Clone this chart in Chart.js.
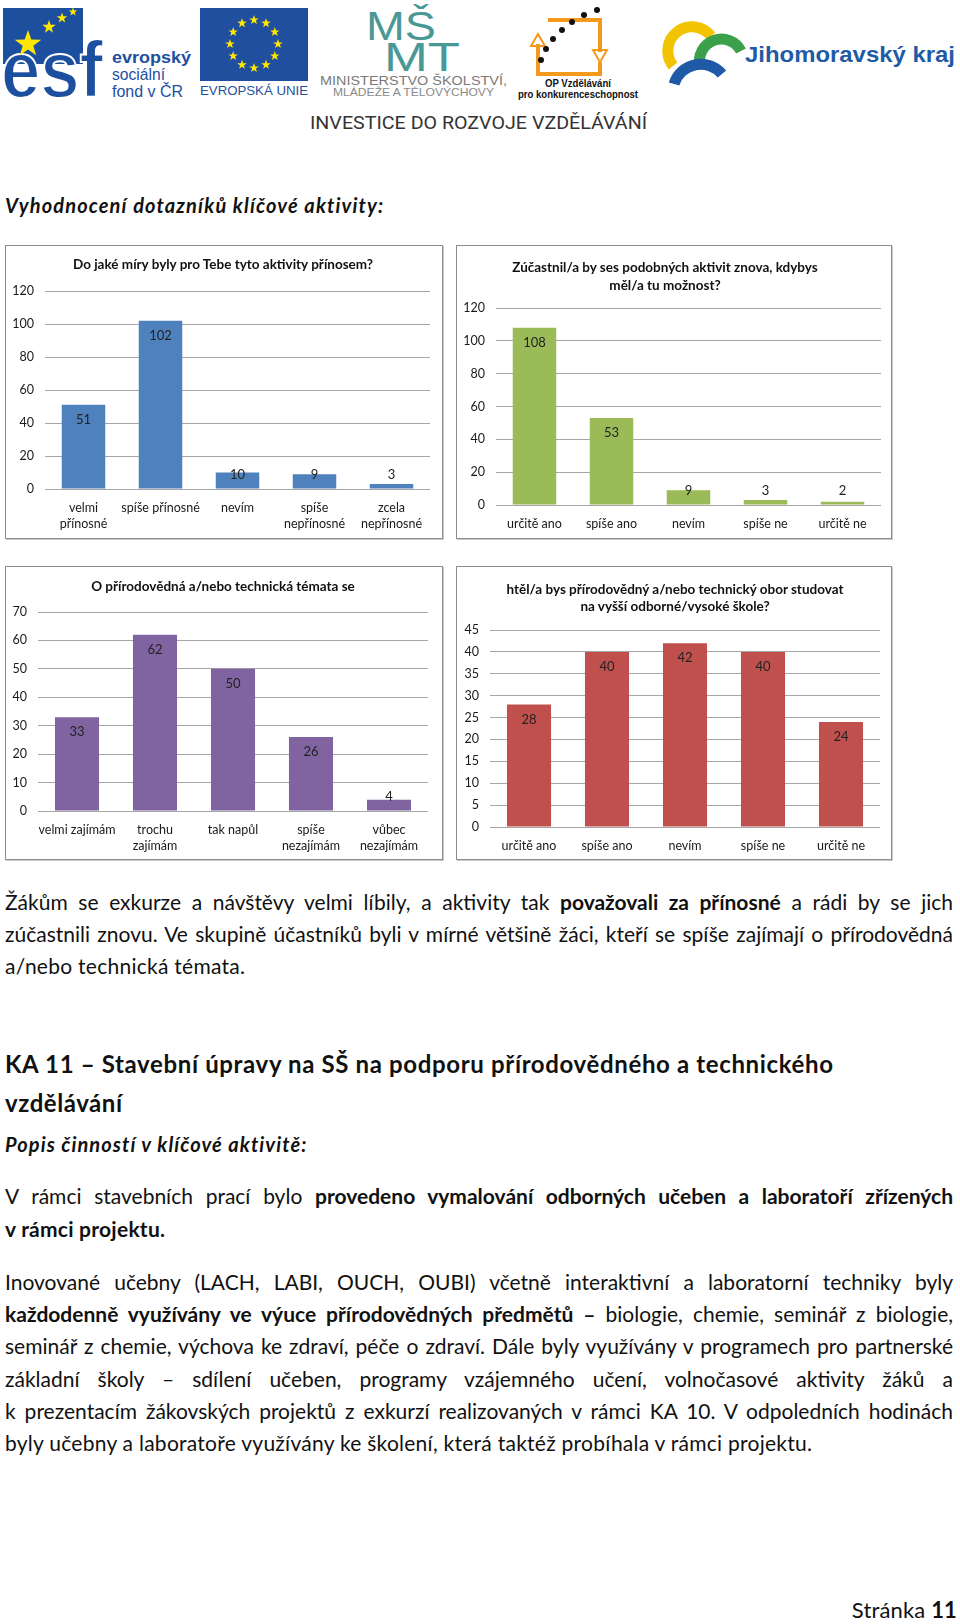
<!DOCTYPE html>
<html lang="cs">
<head>
<meta charset="utf-8">
<title>Vyhodnocení dotazníků klíčové aktivity</title>
<script src="https://cdn.jsdelivr.net/npm/chart.js@4.4.1/dist/chart.umd.min.js"></script>
<style>
html, body { margin: 0; padding: 0; background: #fff; }
body { width: 960px; height: 1624px; position: relative; overflow: hidden; font-family: Lato, 'Open Sans', sans-serif; color: #111; }
.ln { position: absolute; left: 5px; white-space: nowrap; line-height: 30px; height: 30px; font-size: 21px; }
.ln span { display: inline-block; }
.h1 { font-size: 24px; font-weight: bold; line-height: 34px; height: 34px; }
.bi { font-weight: bold; font-style: italic; font-size: 20px; }
.box { position: absolute; box-sizing: border-box; border: 1px solid #8d8d8d; box-shadow: 1px 1px 0 #c9c9c9; background: #fff; }
.ct { position: absolute; font-weight: bold; font-size: 13.5px; line-height: 17px; text-align: center; white-space: nowrap; transform: translateX(-50%); color: #111; }
canvas { position: absolute; }
</style>
</head>
<body>

<svg id="header" width="960" height="140" style="position:absolute;left:0;top:0" font-family="'Liberation Sans', Arial, sans-serif">
  <!-- esf -->
  <rect x="3" y="8" width="80" height="56" fill="#1d4f9f"/>
  <text x="1" y="97" font-size="80" font-weight="bold" fill="#1d4f9f" stroke="#fff" stroke-width="2" textLength="102" lengthAdjust="spacingAndGlyphs">esf</text>
  <g id="esfStars" fill="#ffe600"></g>
  <text x="112" y="63" font-size="17" font-weight="bold" fill="#1d4f9f" textLength="79" lengthAdjust="spacingAndGlyphs">evropský</text>
  <text x="112" y="80" font-size="16" fill="#1d4f9f" textLength="53" lengthAdjust="spacingAndGlyphs">sociální</text>
  <text x="112" y="97" font-size="16" fill="#1d4f9f" textLength="71" lengthAdjust="spacingAndGlyphs">fond v ČR</text>
  <!-- EU -->
  <rect x="200" y="8" width="108" height="73" fill="#1f4f9e"/>
  <g id="euStars" fill="#ffe600"></g>
  <text x="200" y="95" font-size="13" fill="#1f4f9e" textLength="108" lengthAdjust="spacingAndGlyphs">EVROPSKÁ UNIE</text>
  <!-- MSMT -->
  <text x="366" y="40" font-size="40" fill="#4a9896" font-family="'Liberation Sans Narrow', 'Liberation Sans', sans-serif" font-weight="300" textLength="70" lengthAdjust="spacingAndGlyphs">MŠ</text>
  <text x="384" y="71" font-size="40" fill="#4a9896" font-family="'Liberation Sans Narrow', 'Liberation Sans', sans-serif" font-weight="300" textLength="76" lengthAdjust="spacingAndGlyphs">MT</text>
  <text x="320" y="85" font-size="13" fill="#7a7a7a" textLength="187" lengthAdjust="spacingAndGlyphs">MINISTERSTVO ŠKOLSTVÍ,</text>
  <text x="333" y="96" font-size="11" fill="#8a8a8a" textLength="161" lengthAdjust="spacingAndGlyphs">MLÁDEŽE A TĚLOVÝCHOVY</text>
  <!-- OP -->
  <g fill="none" stroke="#f39a1e" stroke-width="4">
    <path d="M548 20 H600 V52"/>
    <path d="M538 44 V74 H600 V62"/>
  </g>
  <path d="M593 50 L607 50 L600 62 Z" fill="none" stroke="#f39a1e" stroke-width="2"/>
  <path d="M531 46 L545 46 L538 34 Z" fill="none" stroke="#f39a1e" stroke-width="2"/>
  <g id="opDots" fill="#111"></g>
  <text x="578" y="87" font-size="10" font-weight="bold" fill="#111" text-anchor="middle" textLength="66" lengthAdjust="spacingAndGlyphs">OP Vzdělávání</text>
  <text x="578" y="98" font-size="10" font-weight="bold" fill="#111" text-anchor="middle" textLength="120" lengthAdjust="spacingAndGlyphs">pro konkurenceschopnost</text>
  <!-- Jihomoravsky kraj -->
  <path d="M673 66 A24 24 0 1 1 711 36" fill="none" stroke="#f2c300" stroke-width="11"/>
  <path d="M700 66 A22 22 0 0 1 741 51" fill="none" stroke="#3aa04a" stroke-width="11"/>
  <path d="M674 84 A28 28 0 0 1 722 74" fill="none" stroke="#1f5aa6" stroke-width="11"/>
  <text x="745" y="62" font-size="22" font-weight="bold" fill="#1f5aa6" textLength="210" lengthAdjust="spacingAndGlyphs">Jihomoravský kraj</text>
  <text x="310" y="129" font-size="19" fill="#333" font-family="'Liberation Sans Narrow', 'Roboto', sans-serif" textLength="337" lengthAdjust="spacingAndGlyphs">INVESTICE DO ROZVOJE VZDĚLÁVÁNÍ</text>
</svg>

<div class="ln bi" style="top:190px" data-w="378"><span>Vyhodnocení dotazníků klíčové aktivity:</span></div>

<div class="box" style="left:5px;top:245px;width:438px;height:294px"></div>
<div class="box" style="left:456px;top:245px;width:436px;height:294px"></div>
<div class="box" style="left:5px;top:566px;width:438px;height:294px"></div>
<div class="box" style="left:456px;top:566px;width:436px;height:294px"></div>

<canvas id="prinos"></canvas>
<canvas id="znova"></canvas>
<canvas id="zajem"></canvas>
<canvas id="studium"></canvas>

<div class="ct" style="left:223px;top:256px">Do jaké míry byly pro Tebe tyto aktivity přínosem?</div>
<div class="ct" style="left:665px;top:258px;line-height:18px">Zúčastnil/a by ses podobných aktivit znova, kdybys<br>měl/a tu možnost?</div>
<div class="ct" style="left:223px;top:578px">O přírodovědná a/nebo technická témata se</div>
<div class="ct" style="left:675px;top:581px;line-height:17px">htěl/a bys přírodovědný a/nebo technický obor studovat<br>na vyšší odborné/vysoké škole?</div>

<div class="ln j" style="top:887px" data-w="948"><span>Žákům se exkurze a návštěvy velmi líbily, a aktivity tak <b>považovali za přínosné</b> a rádi by se jich</span></div>
<div class="ln j" style="top:919px" data-w="948"><span>zúčastnili znovu. Ve skupině účastníků byli v mírné většině žáci, kteří se spíše zajímají o přírodovědná</span></div>
<div class="ln" style="top:951px" data-w="240"><span>a/nebo technická témata.</span></div>

<div class="ln h1" style="top:1047px" data-w="828"><span>KA 11 – Stavební úpravy na SŠ na podporu přírodovědného a technického</span></div>
<div class="ln h1" style="top:1086px" data-w="117"><span>vzdělávání</span></div>
<div class="ln bi" style="top:1129px" data-w="301"><span>Popis činností v klíčové aktivitě:</span></div>

<div class="ln j" style="top:1181px" data-w="948"><span>V rámci stavebních prací bylo <b>provedeno vymalování odborných učeben a laboratoří zřízených</b></span></div>
<div class="ln" style="top:1214px" data-w="160"><span><b>v rámci projektu.</b></span></div>

<div class="ln j" style="top:1267px" data-w="948"><span>Inovované učebny (LACH, LABI, OUCH, OUBI) včetně interaktivní a laboratorní techniky byly</span></div>
<div class="ln j" style="top:1299px" data-w="948"><span><b>každodenně využívány ve výuce přírodovědných předmětů –</b> biologie, chemie, seminář z biologie,</span></div>
<div class="ln j" style="top:1331px" data-w="948"><span>seminář z chemie, výchova ke zdraví, péče o zdraví. Dále byly využívány v programech pro partnerské</span></div>
<div class="ln j" style="top:1364px" data-w="948"><span>základní školy – sdílení učeben, programy vzájemného učení, volnočasové aktivity žáků a</span></div>
<div class="ln j" style="top:1396px" data-w="948"><span>k prezentacím žákovských projektů z exkurzí realizovaných v rámci KA 10. V odpoledních hodinách</span></div>
<div class="ln" style="top:1428px" data-w="807"><span>byly učebny a laboratoře využívány ke školení, která taktéž probíhala v rámci projektu.</span></div>

<div class="ln" style="top:1595px;left:auto;right:3px;font-size:22px" data-w="105"><span>Stránka <b>11</b></span></div>

<script>
// chart data
const prinosLabels = [['velmi', 'přínosné'], 'spíše přínosné', 'nevím', ['spíše', 'nepřínosné'], ['zcela', 'nepřínosné']];
const prinosValues = [51, 102, 10, 9, 3];

const znovaLabels = ['určitě ano', 'spíše ano', 'nevím', 'spíše ne', 'určitě ne'];
const znovaValues = [108, 53, 9, 3, 2];

const zajemLabels = ['velmi zajímám', ['trochu', 'zajímám'], 'tak napůl', ['spíše', 'nezajímám'], ['vůbec', 'nezajímám']];
const zajemValues = [33, 62, 50, 26, 4];

const studiumLabels = ['určitě ano', 'spíše ano', 'nevím', 'spíše ne', 'určitě ne'];
const studiumValues = [28, 40, 42, 40, 24];

// axis ranges
const prinosAxis = { max: 120, step: 20 };
const znovaAxis = { max: 120, step: 20 };
const zajemAxis = { max: 70, step: 10 };
const studiumAxis = { max: 45, step: 5 };

Chart.defaults.font.family = "Lato, 'Open Sans', sans-serif";
Chart.defaults.color = '#1a1a1a';

// value labels drawn inside the top of each bar, like Excel "inside end"
const valueLabels = {
    id: 'valueLabels',
    afterDatasetsDraw(chart) {
        const ctx = chart.ctx;
        const meta = chart.getDatasetMeta(0);
        const values = chart.data.datasets[0].data;
        ctx.save();
        ctx.font = "13px Lato, 'Open Sans', sans-serif";
        ctx.fillStyle = '#222';
        ctx.textAlign = 'center';
        ctx.textBaseline = 'middle';
        meta.data.forEach((bar, i) => {
            const y = Math.min(bar.y + 15, bar.base - 14);
            ctx.fillText(String(values[i]), bar.x, y);
        });
        ctx.restore();
    }
};

// box = [left, top, right, bottom], plot = [left, top, right, bottom] in page pixels
function makeChart(id, labels, values, axis, color, box, plot) {
    const canvas = document.getElementById(id);
    const w = box[2] - box[0];
    const h = box[3] - box[1];
    canvas.width = w;
    canvas.height = h;
    canvas.style.left = box[0] + 'px';
    canvas.style.top = box[1] + 'px';

    return new Chart(canvas, {
        type: 'bar',
        data: {
            labels: labels,
            datasets: [{
                data: values,
                backgroundColor: color,
                barPercentage: 0.565,
                categoryPercentage: 1,
            }],
        },
        options: {
            responsive: false,
            animation: false,
            layout: { padding: { top: plot[1] - box[1], right: box[2] - plot[2], left: 0, bottom: 0 } },
            plugins: { legend: { display: false }, tooltip: { enabled: false } },
            scales: {
                x: {
                    grid: { display: false },
                    border: { display: false },
                    ticks: { padding: 3, autoSkip: false, maxRotation: 0, font: { size: 12.5, lineHeight: 1.3 } },
                    afterFit: (scale) => { scale.height = box[3] - plot[3]; },
                },
                y: {
                    min: 0,
                    max: axis.max,
                    ticks: { stepSize: axis.step, padding: 11, font: { size: 12.5 } },
                    grid: { color: '#a6a6a6', drawTicks: false },
                    border: { display: false },
                    afterFit: (scale) => { scale.width = plot[0] - box[0]; },
                },
            },
        },
        plugins: [valueLabels],
    });
}

makeChart('prinos', prinosLabels, prinosValues, prinosAxis, '#4f81bd', [5, 245, 443, 539], [45, 291, 430, 489]);
makeChart('znova', znovaLabels, znovaValues, znovaAxis, '#9bbb59', [456, 245, 892, 539], [496, 308, 881, 505]);
makeChart('zajem', zajemLabels, zajemValues, zajemAxis, '#8064a2', [5, 566, 443, 860], [38, 612, 428, 811]);
makeChart('studium', studiumLabels, studiumValues, studiumAxis, '#c0504d', [456, 566, 892, 860], [490, 630, 880, 827]);

// header decorations
function starPoints(cx, cy, r) {
    const pts = [];
    for (let i = 0; i < 10; i++) {
        const a = -Math.PI / 2 + i * Math.PI / 5;
        const rr = i % 2 === 0 ? r : r * 0.4;
        pts.push((cx + rr * Math.cos(a)).toFixed(1) + ',' + (cy + rr * Math.sin(a)).toFixed(1));
    }
    return pts.join(' ');
}
const NS = 'http://www.w3.org/2000/svg';
function addStar(group, cx, cy, r) {
    const p = document.createElementNS(NS, 'polygon');
    p.setAttribute('points', starPoints(cx, cy, r));
    document.getElementById(group).appendChild(p);
}
for (let i = 0; i < 12; i++) {
    const a = i * Math.PI / 6;
    addStar('euStars', 254 + 24 * Math.cos(a), 44 + 24 * Math.sin(a), 5);
}
addStar('esfStars', 28, 44, 14);
addStar('esfStars', 49, 27, 7);
addStar('esfStars', 62, 18, 5.5);
addStar('esfStars', 73, 12, 4.5);
[[541, 60], [546, 49], [553, 39], [562, 30], [572, 22], [584, 15], [597, 10]].forEach(([x, y]) => {
    const c = document.createElementNS(NS, 'circle');
    c.setAttribute('cx', x); c.setAttribute('cy', y); c.setAttribute('r', 3);
    document.getElementById('opDots').appendChild(c);
});

// fit text lines to the widths measured on the page
document.querySelectorAll('.ln').forEach((el) => {
    const span = el.firstElementChild;
    const target = +el.dataset.w;
    const natural = span.getBoundingClientRect().width;
    const diff = target - natural;
    const spaces = (span.textContent.match(/ /g) || []).length;
    if (el.classList.contains('j') && diff > 0 && spaces) {
        span.style.wordSpacing = (diff / spaces) + 'px';
    } else {
        span.style.letterSpacing = (diff / Math.max(1, span.textContent.length - 1)) + 'px';
    }
});
</script>
</body>
</html>
